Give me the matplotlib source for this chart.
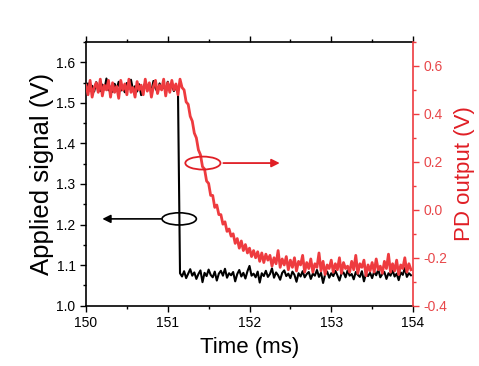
import numpy as np
import matplotlib
matplotlib.use("Agg")
import matplotlib.pyplot as plt
from matplotlib.patches import Ellipse
from matplotlib.ticker import MultipleLocator

plt.rcParams['font.family'] = ['Liberation Sans', 'DejaVu Sans']

# sampling grid (ms)
t_start = 150.0
t_step = 0.025

applied_signal = [
    1.535, 1.548, 1.530, 1.542, 1.528, 1.551, 1.536, 1.529, 1.545, 1.533,
    1.560, 1.531, 1.540, 1.527, 1.547, 1.534, 1.552, 1.530, 1.538, 1.526,
    1.549, 1.535, 1.557, 1.532, 1.541, 1.528, 1.546, 1.519, 1.537, 1.550,
    1.531, 1.543, 1.529, 1.554, 1.536, 1.527, 1.548, 1.533, 1.540, 1.530,
    1.552, 1.534, 1.545, 1.529, 1.538, 1.531,
    1.080, 1.072, 1.085, 1.068, 1.079, 1.090, 1.074, 1.082, 1.066, 1.078,
    1.087, 1.058, 1.081, 1.073, 1.089, 1.076, 1.070, 1.084, 1.062, 1.079,
    1.086, 1.074, 1.091, 1.069, 1.080, 1.075, 1.083, 1.060, 1.078, 1.088,
    1.072, 1.081, 1.067, 1.085, 1.098, 1.074, 1.079, 1.070, 1.084, 1.057,
    1.080, 1.073, 1.086, 1.071, 1.078, 1.092, 1.069, 1.082, 1.075, 1.064,
    1.081, 1.087, 1.073, 1.079, 1.068, 1.084, 1.076, 1.059, 1.080, 1.072,
    1.085, 1.070, 1.078, 1.083, 1.066, 1.079, 1.074, 1.088, 1.071, 1.081,
    1.056, 1.077, 1.084, 1.069, 1.080, 1.073, 1.086, 1.075, 1.062, 1.079,
    1.082, 1.070, 1.087, 1.074, 1.078, 1.065, 1.083, 1.076, 1.071, 1.085,
    1.060, 1.079, 1.073, 1.081, 1.068, 1.084, 1.075, 1.089, 1.070, 1.078,
    1.083, 1.066, 1.080, 1.074, 1.087, 1.072, 1.079, 1.063, 1.082, 1.076,
    1.093, 1.071, 1.080, 1.075,
]

pd_output = [
    0.52, 0.48, 0.54, 0.47, 0.51, 0.53, 0.49, 0.545, 0.475, 0.52,
    0.50, 0.54, 0.47, 0.53, 0.49, 0.515, 0.465, 0.54, 0.50, 0.525,
    0.48, 0.545, 0.49, 0.51, 0.47, 0.535, 0.50, 0.52, 0.48, 0.545,
    0.495, 0.53, 0.47, 0.515, 0.54, 0.485, 0.52, 0.50, 0.545, 0.475,
    0.53, 0.49, 0.54, 0.50, 0.525, 0.48, 0.545, 0.51,
    0.50, 0.45, 0.44, 0.39, 0.37, 0.32, 0.30, 0.25, 0.23, 0.18,
    0.17, 0.12, 0.11, 0.06, 0.06, 0.01, 0.02, -0.02, -0.02, -0.06,
    -0.05, -0.09, -0.08, -0.11, -0.10, -0.14, -0.12, -0.16, -0.13, -0.17,
    -0.145, -0.18,
    -0.16, -0.195, -0.17, -0.20, -0.175, -0.215, -0.18, -0.22, -0.185, -0.21,
    -0.19, -0.235, -0.20, -0.225, -0.17, -0.24, -0.205, -0.23, -0.195, -0.25,
    -0.21, -0.24, -0.20, -0.255, -0.215, -0.23, -0.19, -0.26, -0.22, -0.245,
    -0.205, -0.26, -0.225, -0.24, -0.18, -0.255, -0.215, -0.27, -0.23, -0.245,
    -0.21, -0.26, -0.225, -0.25, -0.20, -0.265, -0.22, -0.245, -0.235, -0.26,
    -0.215, -0.25, -0.19, -0.265, -0.225, -0.24, -0.21, -0.275, -0.23, -0.255,
    -0.22, -0.26, -0.205, -0.25, -0.235, -0.265, -0.215, -0.245, -0.185, -0.26,
    -0.225, -0.255, -0.21, -0.27, -0.23, -0.245, -0.20, -0.26, -0.225, -0.25,
]

x_ticks = [150, 151, 152, 153, 154]
left_ticks = [1.0, 1.1, 1.2, 1.3, 1.4, 1.5, 1.6]
right_ticks = [-0.4, -0.2, 0.0, 0.2, 0.4, 0.6]

t_black = t_start + t_step * np.arange(len(applied_signal))
t_red = t_start + t_step * np.arange(len(pd_output))

RED = '#ee3b3f'
RED_TXT = '#e8474a'
RED_LBL = '#e01e25'

fig = plt.figure(figsize=(4.79, 3.66), dpi=100)
ax = fig.add_axes([86/479, 1 - 305.7/366, (413 - 86)/479, (305.7 - 42)/366])
ax2 = ax.twinx()

ax.plot(t_black, applied_signal, color='black', lw=1.5)
ax2.plot(t_red, pd_output, color=RED, lw=2.0)

ax.set_xlim(150, 154)
ax.set_ylim(1.0, 1.65)
ax2.set_ylim(-0.4, 0.7)

ax.set_xticks(x_ticks)
ax.set_xticklabels([str(v) for v in x_ticks])
ax.xaxis.set_minor_locator(MultipleLocator(0.5))
ax.set_yticks(left_ticks)
ax.set_yticklabels(['%.1f' % v for v in left_ticks])
ax.yaxis.set_minor_locator(MultipleLocator(0.05))
ax2.set_yticks(right_ticks)
ax2.set_yticklabels(['%.1f' % v for v in right_ticks])
ax2.yaxis.set_minor_locator(MultipleLocator(0.1))

ax.tick_params(axis='both', which='major', direction='out', length=4, width=1,
               labelsize=10, top=True, right=False)
ax.tick_params(axis='both', which='minor', direction='out', length=2.5, width=1,
               top=True, right=False)
ax2.tick_params(axis='y', which='major', direction='out', length=4, width=1,
                colors=RED, labelcolor=RED_TXT, labelsize=10)
ax2.tick_params(axis='y', which='minor', direction='out', length=2.5, width=1,
                colors=RED)

for s in ['left', 'bottom', 'top']:
    ax.spines[s].set_linewidth(1.2)
ax.spines['right'].set_visible(False)
ax2.spines['right'].set_color(RED)
ax2.spines['right'].set_linewidth(1.2)
for s in ['left', 'bottom', 'top']:
    ax2.spines[s].set_visible(False)

ax.set_xlabel('Time (ms)', fontsize=16, labelpad=5)
ax.set_ylabel('Applied signal (V)', fontsize=18.5, labelpad=2)
ax2.set_ylabel('PD output (V)', fontsize=16, color=RED_LBL, labelpad=5)

# annotations: ellipses and arrows
ax.add_patch(Ellipse((151.14, 1.214), 0.42, 0.030, fill=False,
                     edgecolor='black', lw=1.2, zorder=5))
ax.annotate('', xy=(150.2, 1.214), xytext=(150.92, 1.214),
            arrowprops=dict(arrowstyle='-|>', color='black', lw=1.2,
                            mutation_scale=12, shrinkA=0, shrinkB=0))
ax2.add_patch(Ellipse((151.43, 0.195), 0.43, 0.054, fill=False,
                      edgecolor=RED_LBL, lw=1.3, zorder=5))
ax2.annotate('', xy=(152.37, 0.195), xytext=(151.68, 0.195),
             arrowprops=dict(arrowstyle='-|>', color=RED_LBL, lw=1.3,
                             mutation_scale=12, shrinkA=0, shrinkB=0))

fig.savefig('out.png', dpi=100)
